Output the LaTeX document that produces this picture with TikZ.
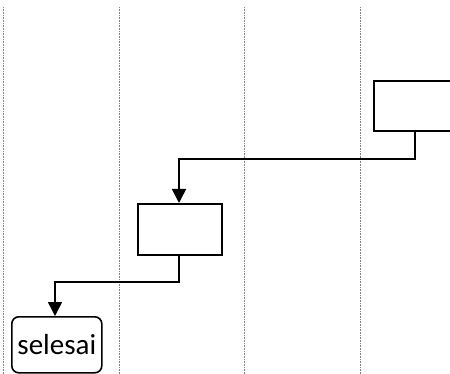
\documentclass[tikz,border=0pt]{standalone}
\usepackage{fontspec}
\setmainfont{Carlito}
\usetikzlibrary{arrows.meta}
\begin{document}
\begin{tikzpicture}[x=1pt,y=-1pt,
  lane/.style={draw=gray, line width=0.8pt, dash pattern=on 0.8pt off 0.8pt},
  procbox/.style={draw, line width=1.6pt, rectangle, inner sep=0pt},
  term/.style={draw, line width=1.6pt, rounded corners=7pt, inner sep=0pt, font=\fontsize{29}{31}\selectfont},
  flow/.style={line width=1.6pt, -{Triangle[length=14pt,width=14pt]}}]
\useasboundingbox (0,0) rectangle (450,374);
\begin{scope}
\clip (0,0) rectangle (450,374);
\coordinate (l1t) at (3,7); \coordinate (l1b) at (3,374);
\coordinate (l2t) at (119,7); \coordinate (l2b) at (119,374);
\coordinate (l3t) at (244,7); \coordinate (l3b) at (244,374);
\coordinate (l4t) at (360,7); \coordinate (l4b) at (360,374);
\draw[lane] (l1t) -- (l1b);
\draw[lane] (l2t) -- (l2b);
\draw[lane] (l3t) -- (l3b);
\draw[lane] (l4t) -- (l4b);
\node[procbox, minimum width=120pt, minimum height=50pt, anchor=north west] (top) at (373,80) {};
\node[procbox, minimum width=84pt, minimum height=51pt, anchor=north west] (mid) at (137,203) {};
\node[term, minimum width=90pt, minimum height=56pt, anchor=north west] (end) at (11,316) {selesai};
\coordinate (topout) at (415,130);
\coordinate (midin) at (179,203);
\draw[flow] (topout) |- (179,159) -- (midin);
\coordinate (midout) at (179,254);
\coordinate (endin) at (55,316);
\draw[flow] (midout) |- (55,282) -- (endin);
\end{scope}
\end{tikzpicture}
\end{document}
